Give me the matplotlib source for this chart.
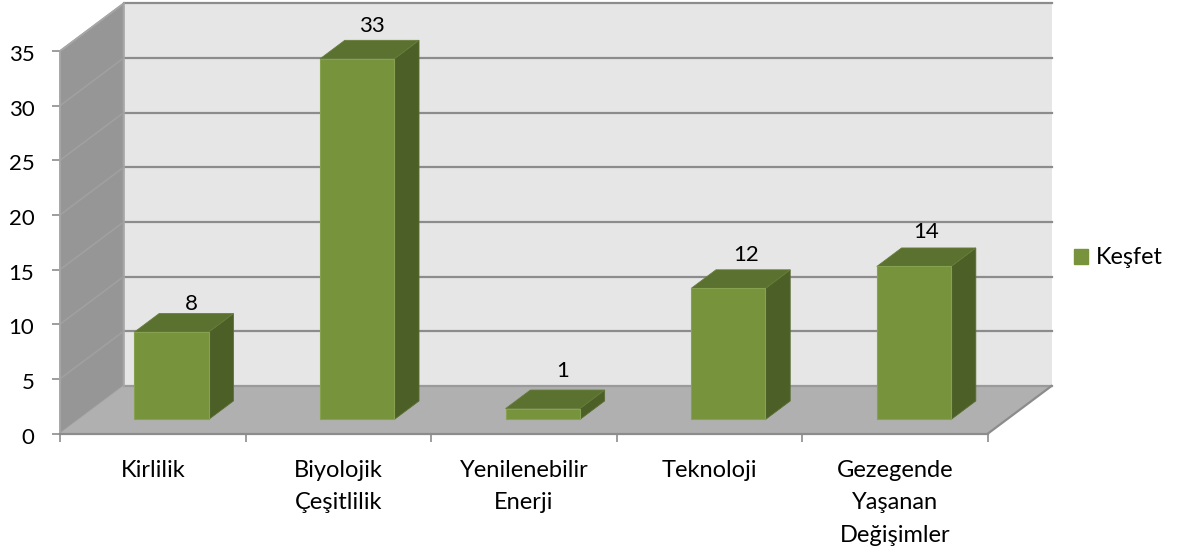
import matplotlib.pyplot as plt
from matplotlib.patches import Polygon, Patch
from matplotlib.transforms import ScaledTranslation

categories = ['Kirlilik', 'Biyolojik\nÇeşitlilik', 'Yenilenebilir\nEnerji', 'Teknoloji', 'Gezegende\nYaşanan\nDeğişimler']
values = [8, 33, 1, 12, 14]
y_ticks = [0, 5, 10, 15, 20, 25, 30, 35]
series_name = 'Keşfet'

W, H = 1183, 555
# pixel place of the front plane of the chart
X0_PX, X5_PX = 60.0, 988.0
Y0_PX, Y35_PX = 433.5, 51.0
CAT_PX = (X5_PX - X0_PX) / 5
VAL_PX = (Y0_PX - Y35_PX) / 35

# depth of the 3d box, in data units
DX = 63.5 / CAT_PX
DY = 47.5 / VAL_PX
BAR_W = 0.4
D_FRONT, D_BACK = 0.295, 0.685

GRID = '#8c8c8c'
WALL_EDGE = '#a6a6a6'
plt.rcParams['font.family'] = ['Lato', 'DejaVu Sans']

fig = plt.figure(figsize=(W / 100, H / 100), dpi=100)
ax = fig.add_axes([0, 0, 1, 1])
ax.set_xlim(-X0_PX / CAT_PX, (W - X0_PX) / CAT_PX)
ax.set_ylim(-(H - Y0_PX) / VAL_PX, Y0_PX / VAL_PX)
ax.patch.set_visible(False)

n = len(categories)
top = y_ticks[-1]

# walls and floor
ax.add_patch(Polygon([(0, 0), (DX, DY), (DX, top + DY), (0, top)], fc='#969696', ec=WALL_EDGE, lw=1.2, zorder=1))
ax.add_patch(Polygon([(DX, DY), (n + DX, DY), (n + DX, top + DY), (DX, top + DY)], fc='#e6e6e6', ec='none', zorder=1))
ax.add_patch(Polygon([(0, 0), (n, 0), (n + DX, DY), (DX, DY)], fc='#b0b0b0', ec='none', zorder=1))

# gridlines
for t in y_ticks:
    if t > 0:
        ax.plot([0, DX], [t, t + DY], color='#a0a0a0' if t < top else WALL_EDGE, lw=1.2, zorder=2)
    ax.plot([DX, n + DX], [t + DY, t + DY], color=GRID if t > 0 else '#9a9a9a', lw=1.6, zorder=2)
ax.plot([n, n + DX], [0, DY], color=GRID, lw=1.6, zorder=2)
ax.plot([DX, DX], [DY, top + DY], color=WALL_EDGE, lw=1.2, zorder=2)

# bars
front_x = [i + 0.5 + D_FRONT * DX for i in range(n)]
ax.bar(front_x, values, width=BAR_W, bottom=D_FRONT * DY, color='#77933c', edgecolor='#86a150', linewidth=0.8, zorder=5)
step_x = (D_BACK - D_FRONT) * DX
step_y = (D_BACK - D_FRONT) * DY
for x, v in zip(front_x, values):
    l, r = x - BAR_W / 2, x + BAR_W / 2
    b, t = D_FRONT * DY, D_FRONT * DY + v
    ax.add_patch(Polygon([(r, b), (r + step_x, b + step_y), (r + step_x, t + step_y), (r, t)],
                         fc='#4c5f27', ec='#5a6f33', lw=0.6, zorder=4))
    ax.add_patch(Polygon([(l, t), (r, t), (r + step_x, t + step_y), (l + step_x, t + step_y)],
                         fc='#5b7130', ec='#667d3a', lw=0.6, zorder=4))

# value labels, offsets in pixels from the middle of the top face
label_dx = [7, 2, 8, 5, 0]
label_dy = [10, 14, 19, 15, 16]
for x, v, ox, oy in zip(front_x, values, label_dx, label_dy):
    ax.annotate(str(v), (x + step_x / 2, D_FRONT * DY + v + step_y), xytext=(ox * 0.72, oy * 0.72),
                textcoords='offset points', ha='center', va='center', fontsize=16, color='black', zorder=6)

# axes
for s in ['top', 'right']:
    ax.spines[s].set_visible(False)
ax.spines['left'].set_position(('data', 0))
ax.spines['bottom'].set_position(('data', 0))
ax.spines['left'].set_bounds(0, top)
ax.spines['bottom'].set_bounds(0, n)
ax.spines['left'].set_color(WALL_EDGE)
ax.spines['bottom'].set_color(GRID)
ax.spines['left'].set_linewidth(1.2)
ax.spines['bottom'].set_linewidth(1.6)
ax.spines['left'].set_zorder(3)
ax.spines['bottom'].set_zorder(3)

ax.set_yticks(y_ticks)
ax.set_yticklabels([str(t) for t in y_ticks])
ax.tick_params(axis='y', length=5.5, width=1.2, color=GRID, labelsize=16, pad=13)
for lab in ax.get_yticklabels():
    lab.set_transform(lab.get_transform() + ScaledTranslation(0, -2 / 100, fig.dpi_scale_trans))
ax.set_xticks(range(n + 1))
ax.set_xticklabels([])
ax.tick_params(axis='x', which='major', length=5.5, width=1.2, color=GRID)
ax.set_xticks([i + 0.5 for i in range(n)], minor=True)
ax.set_xticklabels(categories, minor=True)
ax.tick_params(axis='x', which='minor', length=0, labelsize=17, pad=19)
for lab in ax.get_xticklabels(minor=True):
    lab.set_linespacing(1.68)
    lab.set_ha('center')

ax.legend(handles=[Patch(fc='#77933c', ec='#77933c', label=series_name)], loc='center left',
          bbox_to_anchor=(1074 / W, 1 - 258 / H), frameon=False, fontsize=16.8,
          handlelength=0.62, handleheight=0.62, handletextpad=0.3, borderaxespad=0, borderpad=0)

plt.savefig('out.png', dpi=100)
